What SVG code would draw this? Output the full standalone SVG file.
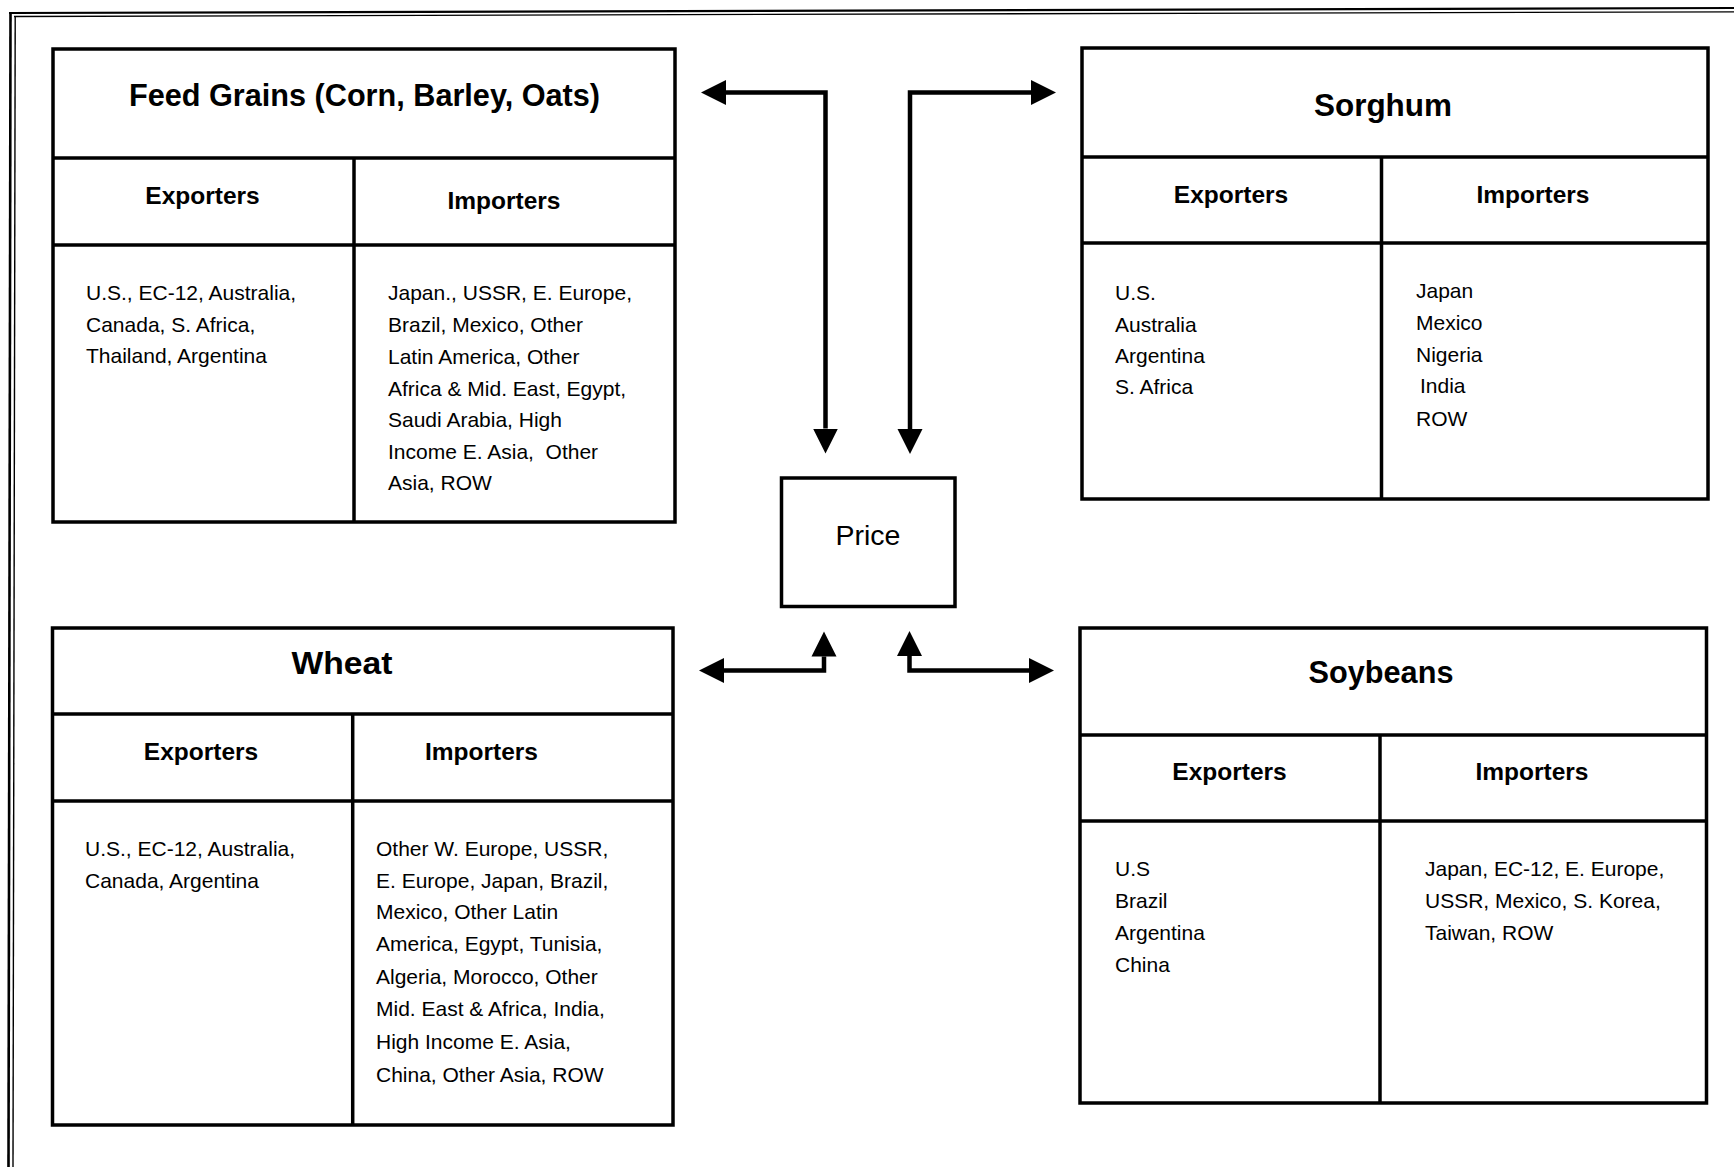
<svg xmlns="http://www.w3.org/2000/svg" width="1734" height="1167" viewBox="0 0 1734 1167">
<style>
.box{fill:none;stroke:#000;stroke-width:3.5}
.ln{stroke:#000;stroke-width:3.5;fill:none}
.frame{stroke:#000;fill:none}
.title{font-family:"Liberation Sans",Arial,sans-serif;font-weight:bold;font-size:30.5px;text-anchor:middle;fill:#000}
.hdr{font-family:"Liberation Sans",Arial,sans-serif;font-weight:bold;font-size:24.5px;text-anchor:middle;fill:#000}
.body{font-family:"Liberation Sans",Arial,sans-serif;font-size:21px;fill:#000}
.price{font-family:"Liberation Sans",Arial,sans-serif;font-size:28.5px;text-anchor:middle;fill:#000}
.conn{fill:none;stroke:#000;stroke-width:4.5;stroke-linejoin:miter;stroke-linecap:butt}
</style>
<defs>
<marker id="ah" markerUnits="userSpaceOnUse" markerWidth="26" markerHeight="26" refX="0" refY="12.5" orient="auto-start-reverse" viewBox="0 0 26 25">
<path d="M0,0 L25,12.5 L0,25 z" fill="#000"/>
</marker>
</defs>
<rect width="1734" height="1167" fill="#fff"/>
<g id="frame">
<line class="frame" x1="9" y1="13" x2="1734" y2="8" stroke-width="2.2"/>
<line class="frame" x1="14" y1="16.5" x2="1734" y2="11.8" stroke-width="1.3"/>
<line class="frame" x1="10.5" y1="12" x2="8.5" y2="1167" stroke-width="2.6"/>
<line class="frame" x1="15.2" y1="16" x2="13" y2="1167" stroke-width="1.4"/>
</g>
<g id="feed-grains">
<rect class="box" x="53" y="49" width="622" height="473"/>
<line class="ln" x1="53" y1="158" x2="675" y2="158"/>
<line class="ln" x1="53" y1="245" x2="675" y2="245"/>
<line class="ln" x1="354" y1="158" x2="354" y2="522"/>
<text class="title" x="364.5" y="105.5" textLength="471" lengthAdjust="spacingAndGlyphs">Feed Grains (Corn, Barley, Oats)</text>
<text class="hdr" x="202.5" y="204">Exporters</text>
<text class="hdr" x="504" y="209">Importers</text>
<text class="body" x="86"><tspan x="86" y="300">U.S., EC-12, Australia,</tspan><tspan x="86" y="332">Canada, S. Africa,</tspan><tspan x="86" y="363">Thailand, Argentina</tspan></text>
<text class="body"><tspan x="388" y="300">Japan., USSR, E. Europe,</tspan><tspan x="388" y="332">Brazil, Mexico, Other</tspan><tspan x="388" y="364">Latin America, Other</tspan><tspan x="388" y="396">Africa &amp; Mid. East, Egypt,</tspan><tspan x="388" y="427">Saudi Arabia, High</tspan><tspan x="388" y="459" xml:space="preserve">Income E. Asia,  Other</tspan><tspan x="388" y="490">Asia, ROW</tspan></text>
</g>
<g id="sorghum">
<rect class="box" x="1082" y="48" width="626" height="451"/>
<line class="ln" x1="1082" y1="157" x2="1708" y2="157"/>
<line class="ln" x1="1082" y1="243" x2="1708" y2="243"/>
<line class="ln" x1="1381.5" y1="157" x2="1381.5" y2="499"/>
<text class="title" x="1383" y="116" textLength="138" lengthAdjust="spacingAndGlyphs">Sorghum</text>
<text class="hdr" x="1231" y="203">Exporters</text>
<text class="hdr" x="1533" y="203">Importers</text>
<text class="body"><tspan x="1115" y="300">U.S.</tspan><tspan x="1115" y="331.5">Australia</tspan><tspan x="1115" y="362.5">Argentina</tspan><tspan x="1115" y="394">S. Africa</tspan></text>
<text class="body"><tspan x="1416" y="298">Japan</tspan><tspan x="1416" y="330">Mexico</tspan><tspan x="1416" y="362">Nigeria</tspan><tspan x="1420" y="393">India</tspan><tspan x="1416" y="426">ROW</tspan></text>
</g>
<g id="wheat">
<rect class="box" x="52.5" y="628" width="620.5" height="497"/>
<line class="ln" x1="52.5" y1="714" x2="673" y2="714"/>
<line class="ln" x1="52.5" y1="801" x2="673" y2="801"/>
<line class="ln" x1="352.7" y1="714" x2="352.7" y2="1125"/>
<text class="title" x="342" y="674" textLength="101" lengthAdjust="spacingAndGlyphs">Wheat</text>
<text class="hdr" x="201" y="760">Exporters</text>
<text class="hdr" x="481.5" y="760">Importers</text>
<text class="body"><tspan x="85" y="856">U.S., EC-12, Australia,</tspan><tspan x="85" y="888">Canada, Argentina</tspan></text>
<text class="body"><tspan x="376" y="856">Other W. Europe, USSR,</tspan><tspan x="376" y="888">E. Europe, Japan, Brazil,</tspan><tspan x="376" y="919">Mexico, Other Latin</tspan><tspan x="376" y="951">America, Egypt, Tunisia,</tspan><tspan x="376" y="984">Algeria, Morocco, Other</tspan><tspan x="376" y="1016">Mid. East &amp; Africa, India,</tspan><tspan x="376" y="1049">High Income E. Asia,</tspan><tspan x="376" y="1082">China, Other Asia, ROW</tspan></text>
</g>
<g id="soybeans">
<rect class="box" x="1080" y="628" width="626.5" height="475"/>
<line class="ln" x1="1080" y1="735" x2="1706.5" y2="735"/>
<line class="ln" x1="1080" y1="821" x2="1706.5" y2="821"/>
<line class="ln" x1="1380" y1="735" x2="1380" y2="1103"/>
<text class="title" x="1381" y="683" textLength="145" lengthAdjust="spacingAndGlyphs">Soybeans</text>
<text class="hdr" x="1229.5" y="780">Exporters</text>
<text class="hdr" x="1532" y="780">Importers</text>
<text class="body"><tspan x="1115" y="876">U.S</tspan><tspan x="1115" y="908">Brazil</tspan><tspan x="1115" y="940">Argentina</tspan><tspan x="1115" y="972">China</tspan></text>
<text class="body"><tspan x="1425" y="876">Japan, EC-12, E. Europe,</tspan><tspan x="1425" y="908">USSR, Mexico, S. Korea,</tspan><tspan x="1425" y="940">Taiwan, ROW</tspan></text>
</g>
<g id="price">
<rect class="box" x="781.5" y="478" width="173.5" height="128.5"/>
<text class="price" x="868" y="545">Price</text>
</g>
<g id="connectors">
<path class="conn" d="M726,92.5 H825.5 V428.5" marker-start="url(#ah)" marker-end="url(#ah)"/>
<path class="conn" d="M910,429 V92.5 H1031" marker-start="url(#ah)" marker-end="url(#ah)"/>
<path class="conn" d="M824,656.5 V670.5 H724" marker-start="url(#ah)" marker-end="url(#ah)"/>
<path class="conn" d="M909.5,656 V670.5 H1029" marker-start="url(#ah)" marker-end="url(#ah)"/>
</g>
</svg>
